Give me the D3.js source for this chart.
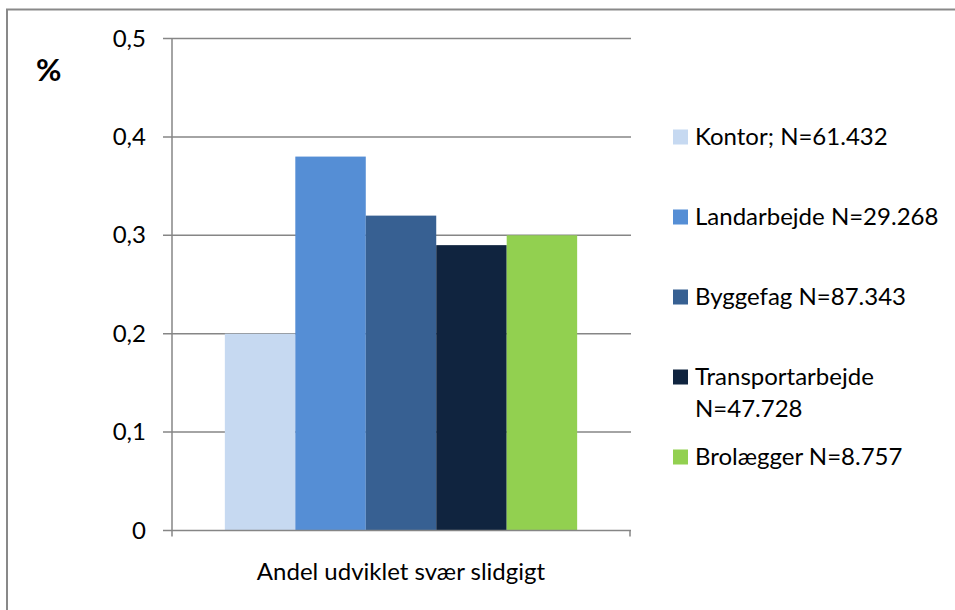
<!DOCTYPE html>
<html>
<head>
<meta charset="utf-8">
<script src="https://cdn.jsdelivr.net/npm/d3@7"></script>
<style>
  body { margin: 0; background: #fff; }
  text { font-family: Lato, "Open Sans", sans-serif; fill: #000; }
</style>
</head>
<body>
<div id="chart"></div>
<script>
// chart data
var categories = ["Andel udviklet svær slidgigt"];
var seriesNames = ["Kontor; N=61.432", "Landarbejde N=29.268", "Byggefag N=87.343", "Transportarbejde N=47.728", "Brolægger N=8.757"];
var seriesValues = [0.20, 0.38, 0.32, 0.29, 0.30];
var seriesColors = ["#c6d9f1", "#558ed5", "#376092", "#10243f", "#92d050"];
var yTicks = [0, 0.1, 0.2, 0.3, 0.4, 0.5];

var width = 955, height = 610;
var plot = { left: 172, right: 630, top: 38.5, bottom: 530.5 };
var gridColor = "#868686";
var fontSize = "24px";

var svg = d3.select("#chart").append("svg")
    .attr("width", width)
    .attr("height", height);

svg.append("rect")
    .attr("width", width).attr("height", height)
    .attr("fill", "#fff");

// outer chart border (cut off on right / bottom)
svg.append("rect")
    .attr("x", 7).attr("y", 9.5)
    .attr("width", 1000).attr("height", 700)
    .attr("fill", "none")
    .attr("stroke", "#898989")
    .attr("stroke-width", 2);

var y = d3.scaleLinear()
    .domain([0, 0.5])
    .range([plot.bottom, plot.top]);

var x0 = d3.scaleBand()
    .domain(categories)
    .range([plot.left, plot.right])
    .paddingInner(0)
    .paddingOuter(0.15);

var x1 = d3.scaleBand()
    .domain(seriesNames)
    .range([0, x0.bandwidth()])
    .padding(0);

// gridlines (they stick out a bit left, like tick marks)
svg.append("g")
    .selectAll("line")
    .data(yTicks.filter(d => d > 0))
    .enter().append("line")
    .attr("x1", plot.left - 9)
    .attr("x2", plot.right + 1)
    .attr("y1", d => y(d))
    .attr("y2", d => y(d))
    .attr("stroke", gridColor)
    .attr("stroke-width", 1.5);

// bars
var rows = seriesNames.map((s, i) => ({ name: s, value: seriesValues[i], color: seriesColors[i] }));
svg.append("g")
    .selectAll("g")
    .data(categories)
    .enter().append("g")
    .attr("transform", d => "translate(" + x0(d) + ",0)")
    .selectAll("rect")
    .data(rows)
    .enter().append("rect")
    .attr("x", d => x1(d.name))
    .attr("width", x1.bandwidth())
    .attr("y", d => y(d.value))
    .attr("height", d => y(0) - y(d.value))
    .attr("fill", d => d.color);

// y axis
var yAxis = d3.axisLeft(y)
    .tickValues(yTicks)
    .tickSize(0)
    .tickPadding(26)
    .tickFormat(d => d === 0 ? "0" : d3.format(".1f")(d).replace(".", ","));

var gy = svg.append("g")
    .attr("transform", "translate(" + plot.left + ",0)")
    .call(yAxis);
gy.select(".domain").remove();
gy.selectAll("text")
    .style("font-size", fontSize)
    .style("font-family", "Lato, 'Open Sans', sans-serif")
    .attr("fill", "#000");

svg.append("line")
    .attr("x1", plot.left).attr("x2", plot.left)
    .attr("y1", plot.top).attr("y2", plot.bottom + 6)
    .attr("stroke", gridColor).attr("stroke-width", 1.5);

// x axis
svg.append("line")
    .attr("x1", plot.left - 9).attr("x2", plot.right + 1)
    .attr("y1", plot.bottom).attr("y2", plot.bottom)
    .attr("stroke", gridColor).attr("stroke-width", 1.5);
svg.append("line")
    .attr("x1", plot.right).attr("x2", plot.right)
    .attr("y1", plot.bottom).attr("y2", plot.bottom + 6)
    .attr("stroke", gridColor).attr("stroke-width", 1.5);

svg.append("g")
    .selectAll("text")
    .data(categories)
    .enter().append("text")
    .attr("x", d => x0(d) + x0.bandwidth() / 2)
    .attr("y", 580)
    .attr("text-anchor", "middle")
    .style("font-size", fontSize)
    .text(d => d);

// y axis title
svg.append("text")
    .attr("x", 36)
    .attr("y", 81)
    .style("font-size", "31px")
    .style("font-weight", "bold")
    .text("%");

// legend
var legendX = 673, legendTop = 137, legendStep = 80, maxTextWidth = 255;
var legend = svg.append("g");
rows.forEach(function(d, i) {
    var cy = legendTop + i * legendStep;
    legend.append("rect")
        .attr("x", legendX)
        .attr("y", cy - 7.5)
        .attr("width", 15).attr("height", 15)
        .attr("fill", d.color);
    var t = legend.append("text")
        .attr("x", legendX + 22)
        .attr("y", cy + 8)
        .style("font-size", fontSize)
        .text(d.name);
    // wrap long labels onto a second line
    if (t.node().getComputedTextLength() > maxTextWidth) {
        var words = d.name.split(" ");
        var last = words.pop();
        t.text(words.join(" "));
        legend.append("text")
            .attr("x", legendX + 22)
            .attr("y", cy + 8 + 32)
            .style("font-size", fontSize)
            .text(last);
    }
});
</script>
</body>
</html>
